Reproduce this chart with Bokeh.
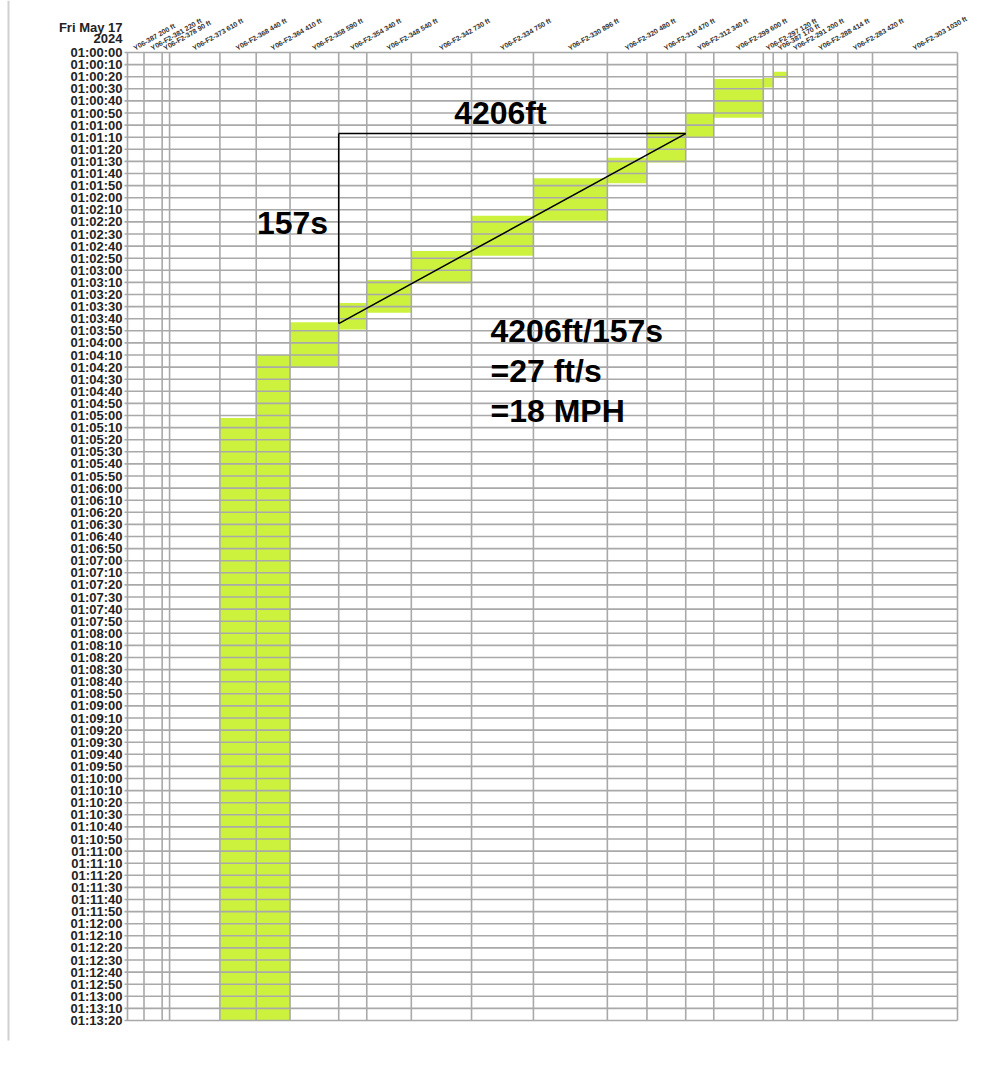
from bokeh.plotting import figure
from bokeh.models import Range1d
from bokeh.core.properties import value
from bokeh.embed import file_html
from bokeh.resources import INLINE
import numpy as np

# ---- data ----
seg_labels = ["Y06-387 200 ft", "Y06-F2-381 220 ft", "Y06-F2-378 90 ft", "Y06-F2-373 610 ft",
              "Y06-F2-368 440 ft", "Y06-F2-364 410 ft", "Y06-F2-358 590 ft", "Y06-F2-354 340 ft",
              "Y06-F2-348 540 ft", "Y06-F2-342 730 ft", "Y06-F2-334 750 ft", "Y06-F2-330 896 ft",
              "Y06-F2-320 480 ft", "Y06-F2-316 470 ft", "Y06-F2-312 340 ft", "Y06-F2-299 600 ft",
              "Y06-F2-297 120 ft", "Y06-387 170 ft", "Y06-F2-291 200 ft", "Y06-F2-288 414 ft",
              "Y06-F2-283 420 ft", "Y06-F2-303 1030 ft"]
seg_lengths = [200, 220, 90, 610, 440, 410, 590, 340, 540, 730, 750, 896,
               480, 470, 340, 600, 120, 170, 200, 414, 420, 1030]
# occupancy (seconds after 01:00:00), None = never occupied
occ_start = [None, None, None, None, 302, 250, 223, 207, 188, 164, 135, 104,
             87, 66, 50, 22, 21, 16, None, None, None, None]
occ_end = [None, None, None, None, 800, 800, 260, 229, 215, 191, 168, 139,
           108, 91, 70, 54, 29, 21, None, None, None, None]
t_max = 800
tick_seconds = list(range(0, t_max + 1, 10))
tick_labels = [f"01:{t // 60:02d}:{t % 60:02d}" for t in tick_seconds]
date_lines = ["Fri May 17", "2024"]
tri_dist = 4206
tri_time = 157
tri_t0 = 67
notes = [f"{tri_dist}ft/{tri_time}s", "=27 ft/s", "=18 MPH"]

# ---- layout (pixels of the page) ----
W, H = 1008, 1068
FX0, FX1, FY0, FY1 = 127, 957, 52, 1020   # grid area on the page

bounds = np.concatenate([[0], np.cumsum(seg_lengths)])
total = float(bounds[-1])
centers = (bounds[:-1] + bounds[1:]) / 2
kx = (FX1 - FX0) / total        # px per ft
ky = (FY1 - FY0) / t_max        # px per s

def dx(px):   # px offset -> ft
    return px / kx

def dy(px):   # px offset -> s
    return px / ky

FONT = value("Liberation Sans")
GREEN = "#ccf23e"
GRID = "#a9a9a9"

p = figure(width=W, height=H,
           x_range=Range1d(-dx(FX0), total + dx(W - FX1)),
           y_range=Range1d(t_max + dy(H - FY1), -dy(FY0)),
           output_backend="svg", toolbar_location=None,
           min_border_left=0, min_border_right=0, min_border_top=0, min_border_bottom=0)
p.axis.visible = False
p.grid.visible = False
p.outline_line_color = None
p.background_fill_color = "white"
p.border_fill_color = "white"

# page edge line at left
p.segment(x0=[-dx(FX0 - 8)], x1=[-dx(FX0 - 8)], y0=[-dy(FY0)], y1=[t_max + dy(20)],
          line_color="#d0d0d0", line_width=2)

# occupancy blocks
L, R, T, B = [], [], [], []
for i, (s, e) in enumerate(zip(occ_start, occ_end)):
    if s is None:
        continue
    L.append(bounds[i]); R.append(bounds[i + 1]); T.append(s); B.append(e)
p.quad(left=L, right=R, top=T, bottom=B, fill_color=GREEN, line_color=None)

# grid
n = len(tick_seconds)
p.segment(x0=[-dx(3)] * n, x1=[total] * n, y0=tick_seconds, y1=tick_seconds,
          line_color=GRID, line_width=1.6)
p.segment(x0=list(bounds), x1=list(bounds), y0=[0] * len(bounds), y1=[t_max] * len(bounds),
          line_color=GRID, line_width=1.6)

# time labels
p.text(x=[-dx(5)] * n, y=tick_seconds, text=tick_labels, text_font=FONT,
       text_font_style="bold", text_font_size="13px", text_color="#222222",
       text_align="right", text_baseline="middle")

# date
p.text(x=[-dx(5)] * 2, y=[-dy(25), -dy(14)], text=date_lines, text_font=FONT,
       text_font_style="bold", text_font_size="13px", text_color="#222222",
       text_align="right", text_baseline="alphabetic")

# column labels
p.text(x=list(centers), y=[-dy(1)] * len(centers), text=seg_labels,
       angle=0.52,
       text_font=FONT, text_font_style="bold", text_font_size="7px",
       text_color="#333333", text_align="left", text_baseline="bottom")

# speed triangle
x1 = float(bounds[7])
x2 = x1 + tri_dist
t1 = tri_t0
t2 = tri_t0 + tri_time
p.multi_line(xs=[[x1, x2], [x1, x1], [x1, x2]], ys=[[t1, t1], [t1, t2], [t2, t1]],
             line_color="black", line_width=1.5)

big = dict(text_font=FONT, text_font_style="bold", text_font_size="32px",
           text_color="black", text_baseline="middle")
p.text(x=[4520], y=[50], text=[f"{tri_dist}ft"], text_align="center", **big)
p.text(x=[2000], y=[141], text=[f"{tri_time}s"], text_align="center", **big)
p.text(x=[4400] * 3, y=[230, 263, 296], text=notes, text_align="left", **big)

open("out.html", "w").write(file_html(p, INLINE))
